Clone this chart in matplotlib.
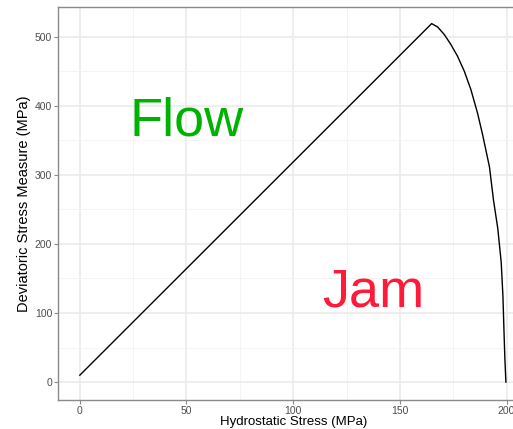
import matplotlib.pyplot as plt
from matplotlib.ticker import MultipleLocator

# Yield surface: linear flow branch then cap down to the hydrostatic limit
hydro = [0.0, 164.9, 167.7, 170.8, 173.9, 177.0, 180.2, 183.3, 186.4,
         188.8, 192.0, 193.9, 195.9, 197.5, 198.3, 198.7, 199.2, 199.7]
deviatoric = [10.0, 519.0, 514.1, 503.3, 488.8, 472.0, 450.1, 423.4, 389.5,
              358.0, 311.5, 263.1, 222.4, 173.4, 125.0, 84.3, 35.3, 0.0]

x_ticks = [0, 50, 100, 150, 200]
y_ticks = [0, 100, 200, 300, 400, 500]

plt.rcParams["font.family"] = ["Liberation Sans", "DejaVu Sans"]

fig = plt.figure(figsize=(5.13, 4.29), dpi=100)
ax = fig.add_axes([0.114, 0.0676, 0.915, 0.916])

ax.plot(hydro, deviatoric, color="black", lw=1.0, zorder=3,
        solid_joinstyle="round")

ax.text(50, 357, "Flow", color="#00B200", fontsize=39, ha="center", va="baseline")
ax.text(137.6, 110, "Jam", color="#FF1A3A", fontsize=39, ha="center", va="baseline")

ax.set_xlim(-10, 210)
ax.set_ylim(-25.9, 543)
ax.set_xticks(x_ticks)
ax.set_yticks(y_ticks)
ax.xaxis.set_minor_locator(MultipleLocator(25))
ax.yaxis.set_minor_locator(MultipleLocator(50))

ax.grid(True, which="major", color="#EBEBEB", lw=1.2)
ax.grid(True, which="minor", color="#F4F4F4", lw=0.7)
ax.set_axisbelow(True)

for s in ax.spines.values():
    s.set_color("#8A8A8A")
    s.set_linewidth(1.0)

ax.tick_params(which="major", length=3, width=0.8, color="#8A8A8A",
               labelsize=7.5, labelcolor="#4D4D4D", pad=1.5)
ax.tick_params(which="minor", length=0)

ax.set_xlabel("Hydrostatic Stress (MPa)", fontsize=9.5, labelpad=0)
ax.set_ylabel("Deviatoric Stress Measure (MPa)", fontsize=10.5, labelpad=3)

fig.savefig("out.png", dpi=100)
